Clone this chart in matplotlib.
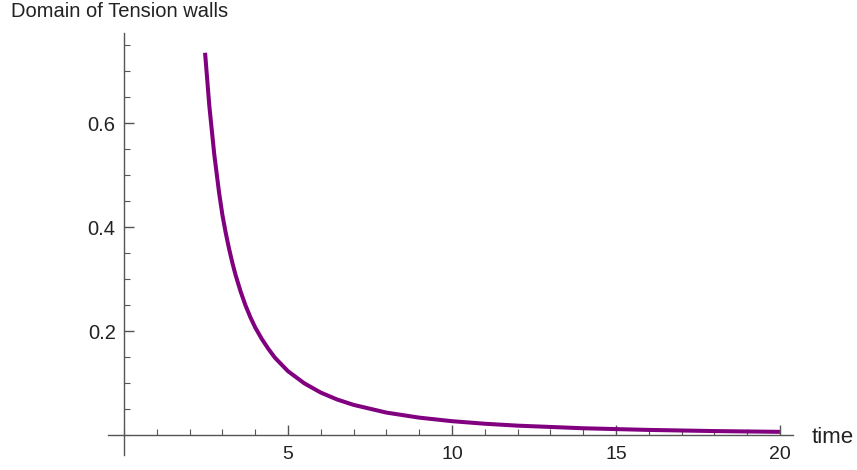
import matplotlib
matplotlib.use("Agg")
import matplotlib.pyplot as plt
from matplotlib.ticker import MultipleLocator, FixedLocator

time = [2.47, 2.6, 2.75, 2.9, 3.0, 3.1, 3.2, 3.3, 3.4, 3.55, 3.7, 3.85, 4.0, 4.2, 4.4,
        4.6, 4.8, 5.0, 5.5, 6.0, 6.5, 7.0, 8.0, 9.0, 10, 11, 12, 14, 16, 18, 20]
domain = [0.735, 0.633, 0.540, 0.465, 0.423, 0.389, 0.359, 0.332, 0.308, 0.277, 0.250,
          0.227, 0.207, 0.185, 0.166, 0.149, 0.136, 0.123, 0.0996, 0.0819, 0.0686,
          0.0583, 0.0435, 0.0338, 0.0270, 0.0221, 0.0184, 0.0134, 0.0102, 0.0080, 0.0065]
x_ticks = [5, 10, 15, 20]
y_ticks = [0.2, 0.4, 0.6]

plt.rcParams['font.family'] = ['Liberation Sans', 'DejaVu Sans']

W, H = 857, 470
fig = plt.figure(figsize=(W / 100, H / 100), dpi=100)
ax = fig.add_axes([108 / W, (H - 455) / H, (793 - 108) / W, (455 - 33) / H])

ax.plot(time, domain, color='#800080', lw=2.9, solid_capstyle='butt', solid_joinstyle='round')

ax.set_xlim(-0.49, 20.4)
ax.set_ylim(-0.038, 0.773)

for s in ['top', 'right']:
    ax.spines[s].set_visible(False)
ax.spines['left'].set_position(('data', 0))
ax.spines['bottom'].set_position(('data', 0))
for s in ['left', 'bottom']:
    ax.spines[s].set_color('#555555')
    ax.spines[s].set_linewidth(1.0)

ax.xaxis.set_major_locator(FixedLocator(x_ticks))
ax.xaxis.set_minor_locator(MultipleLocator(1))
ax.yaxis.set_major_locator(FixedLocator(y_ticks))
ax.yaxis.set_minor_locator(MultipleLocator(0.05))
ax.set_xticklabels([str(v) for v in x_ticks])
ax.set_yticklabels([f"{v:.1f}" for v in y_ticks])

ax.tick_params(axis='x', which='major', direction='in', length=7, width=1, color='#555555',
               labelsize=14, pad=8, labelcolor='#222222')
ax.tick_params(axis='x', which='minor', direction='in', length=4, width=0.8, color='#555555')
ax.tick_params(axis='y', which='major', direction='in', length=7, width=1, color='#555555',
               labelsize=14.5, pad=6, labelcolor='#222222')
ax.tick_params(axis='y', which='minor', direction='in', length=4, width=0.8, color='#555555')

fig.text(11 / W, 1 - 17 / H, 'Domain of Tension walls', fontsize=14.5, color='#222222',
         ha='left', va='baseline')
fig.text(812 / W, 1 - 443 / H, 'time', fontsize=16, color='#222222', ha='left', va='baseline')

fig.savefig('out.png', dpi=100)
